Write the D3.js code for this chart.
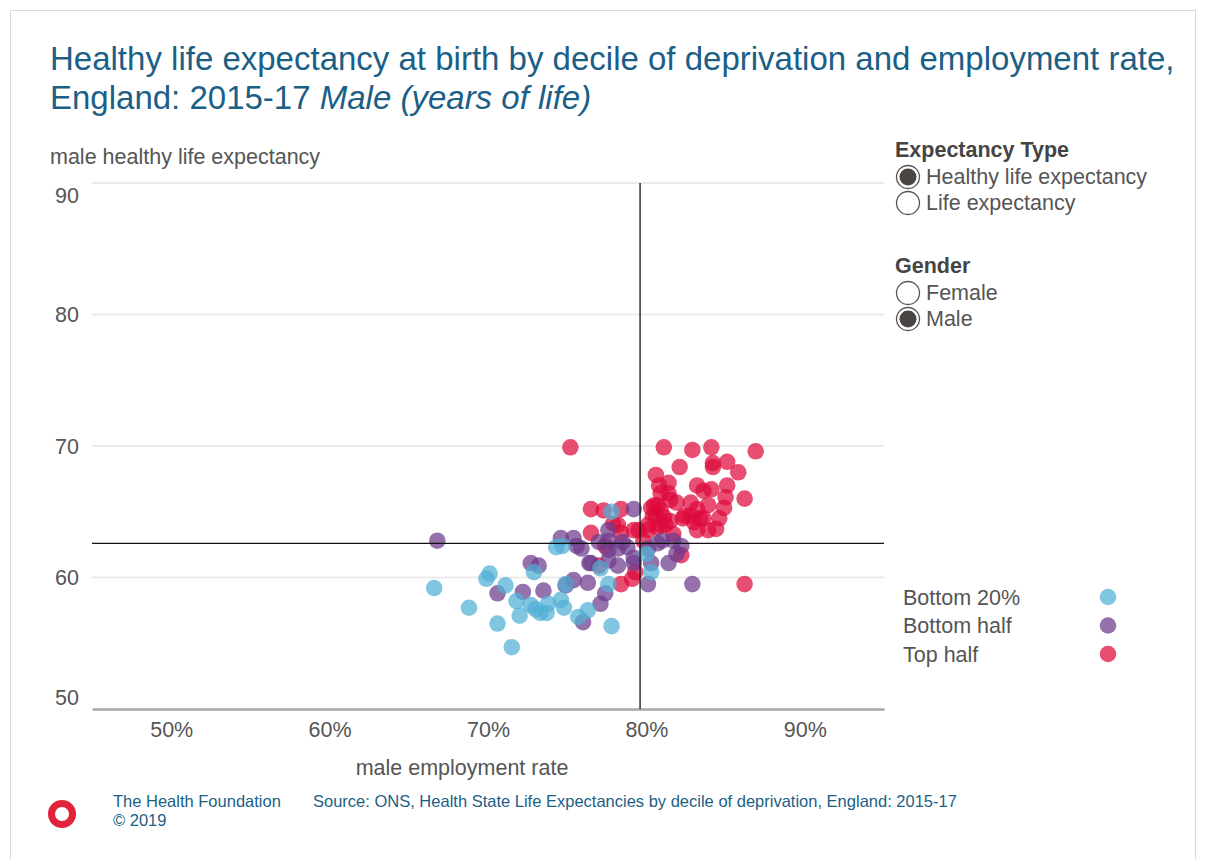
<!DOCTYPE html>
<html><head><meta charset="utf-8">
<script src="https://cdn.jsdelivr.net/npm/d3@7"></script>
<style>
body{margin:0;background:#fff;font-family:"Liberation Sans",Arial,sans-serif;}
</style></head>
<body><svg id="c" width="1206" height="859"></svg>
<script>
// ---- data (employment rate %, healthy life expectancy years) ----
const groups = ["Bottom 20%", "Bottom half", "Top half"];
const groupColors = ["#4fb0d6", "#6e3b8c", "#de0a3c"];
const xTicks = [50, 60, 70, 80, 90];
const yTicks = [50, 60, 70, 80, 90];
const refX = 79.6, refY = 62.6;

const topHalf = [
[75.2,69.9],[81.1,69.9],[82.9,69.7],[84.1,69.9],[86.9,69.6],[84.2,68.7],[84.2,68.4],[85.1,68.8],
[82.1,68.4],[85.8,68.0],[80.6,67.8],[80.8,67.0],[81.4,67.2],[83.2,67.0],[83.6,66.6],[84.1,66.7],
[85.1,67.0],[85.0,66.1],[86.2,66.0],[81.4,66.4],[81.9,65.7],[82.8,65.7],[83.2,65.2],[83.9,65.5],
[84.9,65.3],[80.5,65.5],[80.9,65.1],[80.4,64.7],[82.8,64.7],[83.0,64.2],[83.6,64.5],[84.6,64.5],
[82.3,64.5],[81.5,64.3],[80.9,64.0],[83.2,63.6],[83.9,63.6],[80.1,63.6],[79.5,63.6],[78.4,65.2],
[76.5,65.2],[77.3,65.1],[77.9,64.1],[78.2,64.0],[76.5,63.4],[78.4,63.4],[79.2,63.6],[80.3,65.3],
[80.7,65.5],[80.6,64.7],[81.1,64.6],[80.1,64.0],[80.7,63.8],[81.2,64.0],[82.4,64.7],[83.4,64.5],
[84.4,63.7],[81.7,63.3],[79.8,62.8],[82.2,61.7],[78.4,59.5],[79.1,59.9],[79.3,60.4],[86.2,59.5],
[77.0,60.9],[80.9,66.4],[81.5,65.9],[77.4,62.4]
];
const bottomHalf = [
[66.8,62.8],[70.6,58.8],[72.2,58.9],[72.7,61.1],[73.2,60.9],[73.5,59.0],[74.9,59.4],[75.4,59.8],
[76.3,59.6],[76.0,56.6],[77.4,58.8],[77.1,58.0],[76.4,61.1],[75.6,62.4],[74.6,63.0],[75.4,63.0],
[75.9,62.2],[77.0,62.7],[77.6,62.8],[78.5,62.7],[77.6,62.1],[78.2,62.2],[78.8,62.3],[76.5,61.1],
[77.6,61.3],[78.2,60.9],[79.2,61.1],[79.2,65.2],[80.1,62.2],[80.7,62.6],[81.0,62.8],[81.7,62.8],
[82.2,62.4],[81.9,61.8],[79.2,61.5],[80.3,61.1],[81.4,61.1],[80.1,59.5],[82.9,59.5],[77.6,63.6]
];
const bottom20 = [
[66.6,59.2],[68.8,57.7],[69.9,59.9],[70.1,60.3],[71.1,59.4],[70.6,56.5],[71.5,54.7],[71.8,58.2],
[72.0,57.1],[72.9,60.4],[72.7,57.9],[73.0,57.6],[73.3,57.3],[73.7,57.3],[73.8,58.0],[74.6,58.3],
[74.8,57.7],[75.7,57.0],[76.3,57.5],[74.3,62.3],[74.7,62.4],[74.9,59.5],[77.1,60.7],[77.6,59.5],
[77.8,56.3],[77.8,65.0],[80.0,61.8],[80.3,60.4]
];
const seriesData = [bottom20, bottomHalf, topHalf];

// ---- chart ----
const svg = d3.select("#c");
const textCol = "#555555", titleCol = "#1c5f86";
const fs = "21.5px";

svg.append("rect").attr("x",10.5).attr("y",10.5).attr("width",1185).attr("height",860)
  .attr("fill","none").attr("stroke","#d9d9d9");

const x = d3.scaleLinear().domain([45,95]).range([92,884]);
const y = d3.scaleLinear().domain([50,90]).range([709,183]);

// title
const t = svg.append("text").attr("fill",titleCol).style("font-size","33px");
t.append("tspan").attr("x",50).attr("y",70).text("Healthy life expectancy at birth by decile of deprivation and employment rate,");
t.append("tspan").attr("x",50).attr("y",109).text("England: 2015-17 ");
t.append("tspan").style("font-style","italic").text("Male (years of life)");

svg.append("text").attr("x",50).attr("y",156).attr("dy","0.35em").attr("fill",textCol).style("font-size",fs)
  .text("male healthy life expectancy");

// gridlines
svg.append("g").selectAll("line").data(yTicks.filter(d=>d>50)).join("line")
  .attr("x1",92).attr("x2",884).attr("y1",d=>y(d)).attr("y2",d=>y(d))
  .attr("stroke","#ebebeb").attr("stroke-width",2);

// y tick labels
svg.append("g").selectAll("text").data(yTicks).join("text")
  .attr("x",79).attr("text-anchor","end").attr("fill",textCol).style("font-size",fs)
  .attr("y",d=> d===90 ? 195 : d===50 ? 697 : y(d)).attr("dy","0.35em")
  .text(d=>d);

// x axis
const xAxis = d3.axisBottom(x).tickValues(xTicks).tickSize(0).tickPadding(13).tickFormat(d=>d+"%");
const gx = svg.append("g").attr("transform","translate(0,709)").call(xAxis);
gx.select(".domain").attr("stroke","#a6a6a6").attr("stroke-width",2.5);
gx.selectAll("text").attr("fill",textCol).style("font-size",fs).style("font-family","Liberation Sans, Arial, sans-serif");

svg.append("text").attr("x",462).attr("y",767).attr("dy","0.35em").attr("text-anchor","middle").attr("fill",textCol)
  .style("font-size",fs).text("male employment rate");

// points
[2,1,0].forEach(i=>{
  svg.append("g").selectAll("circle").data(seriesData[i]).join("circle")
    .attr("cx",d=>x(d[0])).attr("cy",d=>y(d[1])).attr("r",8.3)
    .attr("fill",groupColors[i]).attr("fill-opacity",0.72);
});

// reference lines
svg.append("line").attr("x1",x(refX)).attr("x2",x(refX)).attr("y1",183).attr("y2",709)
  .attr("stroke","#111").attr("stroke-width",1.3);
svg.append("line").attr("x1",92).attr("x2",884).attr("y1",y(refY)).attr("y2",y(refY))
  .attr("stroke","#111").attr("stroke-width",1.3);

// color legend
const lg = svg.append("g");
groups.forEach((g,i)=>{
  const yy = 597 + i*28.5;
  lg.append("text").attr("x",903).attr("y",yy).attr("dy","0.35em").attr("fill",textCol)
    .style("font-size",fs).text(g);
  lg.append("circle").attr("cx",1108).attr("cy",yy).attr("r",8.3).attr("fill",groupColors[i]).attr("fill-opacity",0.72);
});

// radio legends
function radioBlock(title, items, checked, y0){
  const g = svg.append("g");
  g.append("text").attr("x",895).attr("y",y0).attr("dy","0.35em").attr("fill","#444").style("font-size","21.5px")
    .style("font-weight","bold").text(title);
  items.forEach((it,i)=>{
    const yy = y0 + 27 + i*26;
    g.append("circle").attr("cx",908).attr("cy",yy+1).attr("r",11.5).attr("fill","#fff")
      .attr("stroke","#555").attr("stroke-width",1.3);
    if(i===checked) g.append("circle").attr("cx",908).attr("cy",yy+1).attr("r",8.5).attr("fill","#4a4542");
    g.append("text").attr("x",926).attr("y",yy).attr("dy","0.35em").attr("fill",textCol)
      .style("font-size","21.5px").text(it);
  });
}
radioBlock("Expectancy Type", ["Healthy life expectancy","Life expectancy"], 0, 149);
radioBlock("Gender", ["Female","Male"], 1, 265);

// footer
svg.append("circle").attr("cx",62).attr("cy",814).attr("r",10.5).attr("fill","none")
  .attr("stroke","#e2243b").attr("stroke-width",7);
svg.append("text").attr("x",113).attr("y",801).attr("dy","0.35em").attr("fill",titleCol).style("font-size","16.5px").text("The Health Foundation");
svg.append("text").attr("x",113).attr("y",820).attr("dy","0.35em").attr("fill",titleCol).style("font-size","16.5px").text("© 2019");
svg.append("text").attr("x",313).attr("y",801).attr("dy","0.35em").attr("fill",titleCol).style("font-size","16.5px")
  .text("Source: ONS, Health State Life Expectancies by decile of deprivation, England: 2015-17");
</script></body></html>
